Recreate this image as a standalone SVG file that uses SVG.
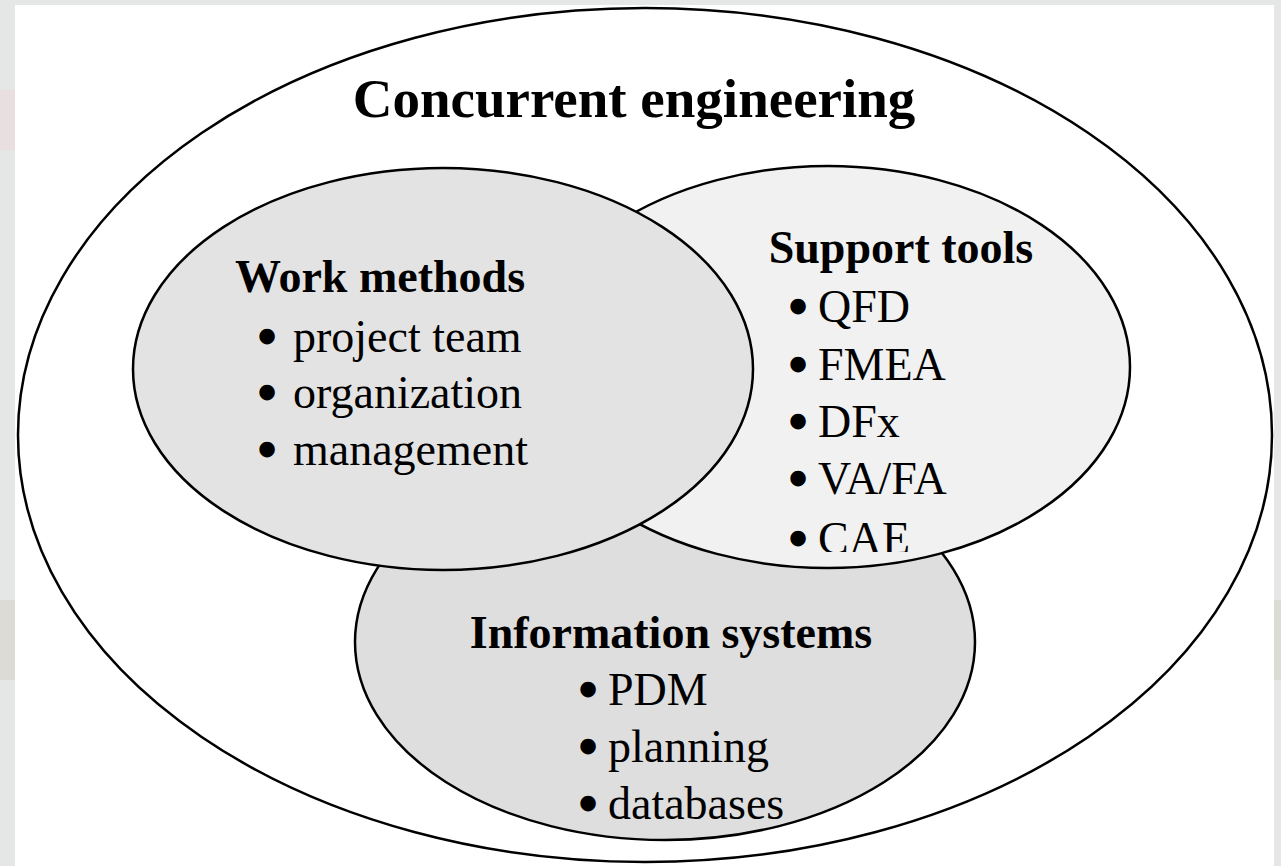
<svg xmlns="http://www.w3.org/2000/svg" width="1281" height="866" viewBox="0 0 1281 866">
  <style>
    .el { stroke: #000; stroke-width: 2.5; }
    .h { font-family: "Liberation Serif", "Times New Roman", serif; font-weight: bold; fill: #000; }
    .t { font-family: "Liberation Serif", "Times New Roman", serif; font-size: 46px; fill: #000; }
    .b { stroke: #000; stroke-width: 4.5; stroke-linejoin: round; }
  </style>
  <defs>
    <clipPath id="clipCae"><rect x="700" y="500" width="300" height="52"/></clipPath>
  </defs>
  <g id="background">
    <rect x="0" y="0" width="1281" height="866" fill="#e4e7e6"/>
    <rect x="0" y="90" width="15" height="60" fill="#e9dfe0"/>
    <rect x="0" y="600" width="15" height="80" fill="#dcdcd4"/>
    <rect x="1274" y="600" width="7" height="80" fill="#dcdcd4"/>
    <rect x="15" y="5" width="1259" height="861" fill="#ffffff"/>
  </g>
  <g id="concurrent-engineering">
    <ellipse class="el" cx="645" cy="435" rx="627" ry="427" fill="#ffffff"/>
    <text class="h" x="634" y="117" font-size="55" text-anchor="middle">Concurrent engineering</text>
  </g>
  <g id="information-systems">
    <ellipse class="el" cx="665" cy="642" rx="310" ry="198" fill="#dedede"/>
    <text class="h" x="671" y="648" font-size="46" text-anchor="middle">Information systems</text>
    <text class="t" x="580" y="705"><tspan class="b">•</tspan><tspan x="608">PDM</tspan></text>
    <text class="t" x="580" y="762"><tspan class="b">•</tspan><tspan x="608">planning</tspan></text>
    <text class="t" x="580" y="819"><tspan class="b">•</tspan><tspan x="608">databases</tspan></text>
  </g>
  <g id="support-tools">
    <ellipse class="el" cx="828" cy="367" rx="302" ry="201" fill="#f1f1f1"/>
    <text class="h" x="901" y="263" font-size="46" text-anchor="middle">Support tools</text>
    <text class="t" x="790" y="322"><tspan class="b">•</tspan><tspan x="818">QFD</tspan></text>
    <text class="t" x="790" y="380"><tspan class="b">•</tspan><tspan x="818">FMEA</tspan></text>
    <text class="t" x="790" y="437"><tspan class="b">•</tspan><tspan x="818">DFx</tspan></text>
    <text class="t" x="790" y="494"><tspan class="b">•</tspan><tspan x="818">VA/FA</tspan></text>
    <text class="t" x="790" y="554" clip-path="url(#clipCae)"><tspan class="b">•</tspan><tspan x="818">CAE</tspan></text>
  </g>
  <g id="work-methods">
    <ellipse class="el" cx="443" cy="369" rx="310" ry="201" fill="#e3e3e3"/>
    <text class="h" x="380" y="292" font-size="46" text-anchor="middle">Work methods</text>
    <text class="t" x="259" y="352"><tspan class="b">•</tspan><tspan x="293">project team</tspan></text>
    <text class="t" x="259" y="408"><tspan class="b">•</tspan><tspan x="293">organization</tspan></text>
    <text class="t" x="259" y="465"><tspan class="b">•</tspan><tspan x="293">management</tspan></text>
  </g>
  <g id="connectors"/>
</svg>
